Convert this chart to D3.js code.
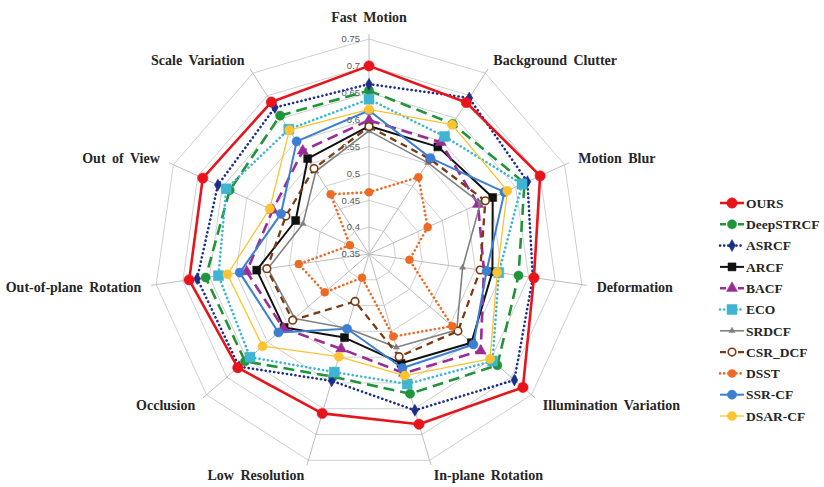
<!DOCTYPE html>
<html>
<head>
<meta charset="utf-8">
<script src="https://cdn.jsdelivr.net/npm/d3@7"></script>
<style>
  html, body { margin: 0; padding: 0; background: #fff; }
  svg { display: block; }
</style>
</head>
<body>
<svg id="chart" width="824" height="487"></svg>
<script>
// Tracking attributes (radar axes), clockwise from the top
const attributes = [
  "Fast Motion", "Background Clutter", "Motion Blur", "Deformation",
  "Illumination Variation", "In-plane Rotation", "Low Resolution",
  "Occlusion", "Out-of-plane Rotation", "Out of View", "Scale Variation"
];

// Radial tick values
const tickValues = [0.35, 0.4, 0.45, 0.5, 0.55, 0.6, 0.65, 0.7, 0.75];
const tickLabels = ["0.35", "0.4", "0.45", "0.5", "0.55", "0.6", "0.65", "0.7", "0.75"];

// Per-tracker scores, one value per attribute in the order above
const trackers = ["OURS", "DeepSTRCF", "ASRCF", "ARCF", "BACF", "ECO", "SRDCF", "CSR_DCF", "DSST", "SSR-CF", "DSAR-CF"];
const OURS      = [0.700, 0.685, 0.700, 0.660, 0.729, 0.680, 0.659, 0.673, 0.688, 0.690, 0.686];
const DeepSTRCF = [0.654, 0.638, 0.668, 0.631, 0.666, 0.621, 0.588, 0.655, 0.657, 0.635, 0.656];
const ASRCF     = [0.666, 0.695, 0.674, 0.658, 0.708, 0.653, 0.596, 0.670, 0.673, 0.659, 0.674];
const ARCF      = [0.588, 0.587, 0.603, 0.582, 0.602, 0.562, 0.512, 0.559, 0.561, 0.500, 0.561];
const BACF      = [0.599, 0.597, 0.573, 0.566, 0.625, 0.581, 0.534, 0.561, 0.580, 0.547, 0.578];
const ECO       = [0.638, 0.610, 0.663, 0.594, 0.654, 0.602, 0.579, 0.643, 0.633, 0.642, 0.626];
const SRDCF     = [0.579, 0.552, 0.578, 0.526, 0.566, 0.531, 0.494, 0.533, 0.540, 0.485, 0.533];
const CSR_DCF   = [0.587, 0.560, 0.588, 0.559, 0.569, 0.549, 0.442, 0.538, 0.542, 0.520, 0.539];
const DSST      = [0.465, 0.520, 0.470, 0.426, 0.555, 0.510, 0.396, 0.459, 0.482, 0.389, 0.482];
const SSR_CF    = [0.617, 0.562, 0.627, 0.571, 0.607, 0.571, 0.495, 0.573, 0.593, 0.530, 0.599];
const DSAR_CF   = [0.619, 0.636, 0.633, 0.591, 0.648, 0.586, 0.549, 0.612, 0.616, 0.553, 0.624];

const seriesValues = [OURS, DeepSTRCF, ASRCF, ARCF, BACF, ECO, SRDCF, CSR_DCF, DSST, SSR_CF, DSAR_CF];

// Visual style for each tracker
const styles = {
  "OURS":      { color: "#E8141B", width: 2.6, dash: null,      cap: "butt",  marker: "circle",   size: 5.2, fill: null },
  "DeepSTRCF": { color: "#1F9438", width: 2.6, dash: "11,6",    cap: "butt",  marker: "circle",   size: 4.6, fill: null },
  "ASRCF":     { color: "#1B2E8C", width: 2.6, dash: "0.1,4.2", cap: "round", marker: "diamond",  size: 3.6, fill: null },
  "ARCF":      { color: "#111111", width: 2.0, dash: null,      cap: "butt",  marker: "square",   size: 4.0, fill: null },
  "BACF":      { color: "#9B2C96", width: 2.6, dash: "11,6",    cap: "butt",  marker: "triangle", size: 5.4, fill: null },
  "ECO":       { color: "#3FB5D3", width: 2.6, dash: "0.1,4.2", cap: "round", marker: "square",   size: 5.0, fill: null },
  "SRDCF":     { color: "#808080", width: 1.6, dash: null,      cap: "butt",  marker: "triangle", size: 3.0, fill: null },
  "CSR_DCF":   { color: "#7A3A12", width: 2.3, dash: "7,5",     cap: "butt",  marker: "circle",   size: 3.8, fill: "#ffffff" },
  "DSST":      { color: "#EE6A24", width: 2.6, dash: "0.1,4.2", cap: "round", marker: "circle",   size: 4.0, fill: null },
  "SSR-CF":    { color: "#3C7FD2", width: 2.0, dash: null,      cap: "butt",  marker: "circle",   size: 4.6, fill: null },
  "DSAR-CF":   { color: "#FDC330", width: 1.3, dash: null,      cap: "butt",  marker: "circle",   size: 4.6, fill: null }
};

const svg = d3.select("#chart");
const cx = 369, cy = 254, R = 215;
const n = attributes.length;

const rScale = d3.scaleLinear().domain([0.35, 0.75]).range([0, R]);
const angle = d3.scaleLinear().domain([0, n]).range([0, 2 * Math.PI]);

const g = svg.append("g").attr("transform", `translate(${cx},${cy})`);

// polygonal gridlines
const ringLine = d3.lineRadial()
  .angle((d, i) => angle(i))
  .radius(d => rScale(d))
  .curve(d3.curveLinearClosed);

g.append("g").selectAll("path")
  .data(tickValues.slice(1))
  .join("path")
  .attr("d", t => ringLine(d3.range(n).map(() => t)))
  .attr("fill", "none")
  .attr("stroke", "#d0d0d0")
  .attr("stroke-width", 1);

// spokes
g.append("g").selectAll("line")
  .data(attributes)
  .join("line")
  .attr("x1", 0).attr("y1", 0)
  .attr("x2", (d, i) => (R + 5) * Math.sin(angle(i)))
  .attr("y2", (d, i) => -(R + 5) * Math.cos(angle(i)))
  .attr("stroke", "#bdbdbd")
  .attr("stroke-width", 1);

// radial tick labels along the first axis
g.append("g").selectAll("text")
  .data(tickValues)
  .join("text")
  .attr("x", -9)
  .attr("y", d => -rScale(d))
  .attr("dy", "0.35em")
  .attr("text-anchor", "end")
  .attr("font-family", "'Liberation Sans', Arial, sans-serif")
  .attr("font-size", 9.5)
  .attr("fill", "#595959")
  .text((d, i) => tickLabels[i]);

// attribute labels
const labelR = R + 15;
g.append("g").selectAll("text")
  .data(attributes)
  .join("text")
  .attr("x", (d, i) => labelR * Math.sin(angle(i)))
  .attr("y", (d, i) => {
    const y = -labelR * Math.cos(angle(i));
    return Math.cos(angle(i)) > 0.95 ? y - 7 : y;
  })
  .attr("dy", "0.35em")
  .attr("text-anchor", (d, i) => {
    const s = Math.sin(angle(i));
    return Math.abs(s) < 0.1 ? "middle" : (s > 0 ? "start" : "end");
  })
  .attr("font-family", "'Liberation Serif', 'Times New Roman', serif")
  .attr("font-weight", "bold")
  .attr("font-size", 14)
  .attr("word-spacing", 3)
  .attr("fill", "#262626")
  .text(d => d);

// marker symbol factory
function symbolPath(type, size) {
  const area = {
    circle: Math.PI * size * size,
    square: (2 * size) * (2 * size),
    diamond: 2 * size * size * 1.6,
    triangle: size * size * 1.8
  }[type];
  const t = { circle: d3.symbolCircle, square: d3.symbolSquare, diamond: d3.symbolDiamond, triangle: d3.symbolTriangle }[type];
  return d3.symbol().type(t).size(area)();
}

const seriesLine = d3.lineRadial()
  .angle((d, i) => angle(i))
  .radius(d => rScale(d))
  .curve(d3.curveLinearClosed);

// draw order: the remaining trackers first, ours on top
const drawOrder = d3.range(1, trackers.length).concat([0]);

const seriesG = g.append("g");
drawOrder.forEach(k => {
  const name = trackers[k];
  const st = styles[name];
  const vals = seriesValues[k];
  const sg = seriesG.append("g");
  sg.append("path")
    .attr("d", seriesLine(vals))
    .attr("fill", "none")
    .attr("stroke", st.color)
    .attr("stroke-width", st.width)
    .attr("stroke-linecap", st.cap)
    .attr("stroke-linejoin", "round")
    .attr("stroke-dasharray", st.dash);
  sg.selectAll("path.m")
    .data(vals)
    .join("path")
    .attr("class", "m")
    .attr("transform", (d, i) => `translate(${rScale(d) * Math.sin(angle(i))},${-rScale(d) * Math.cos(angle(i))})`)
    .attr("d", symbolPath(st.marker, st.size))
    .attr("fill", st.fill || st.color)
    .attr("stroke", st.color)
    .attr("stroke-width", st.fill ? 1.6 : 0.5);
});

// legend
const legend = svg.append("g").attr("transform", "translate(720,203)");
const step = 21.3;
trackers.forEach((name, k) => {
  const st = styles[name];
  const row = legend.append("g").attr("transform", `translate(0,${k * step})`);
  row.append("line")
    .attr("x1", 0).attr("x2", 24).attr("y1", 0).attr("y2", 0)
    .attr("stroke", st.color)
    .attr("stroke-width", st.width)
    .attr("stroke-linecap", st.cap)
    .attr("stroke-dasharray", st.dash ? (st.cap === "round" ? "0.1,4" : "6,3") : null);
  row.append("path")
    .attr("transform", "translate(12,0)")
    .attr("d", symbolPath(st.marker, st.size))
    .attr("fill", st.fill || st.color)
    .attr("stroke", st.color)
    .attr("stroke-width", st.fill ? 1.6 : 0.5);
  row.append("text")
    .attr("x", 26)
    .attr("y", 0)
    .attr("dy", "0.35em")
    .attr("font-family", "'Liberation Serif', 'Times New Roman', serif")
    .attr("font-weight", "bold")
    .attr("font-size", 13.5)
    .attr("fill", "#262626")
    .text(name);
});
</script>
</body>
</html>
